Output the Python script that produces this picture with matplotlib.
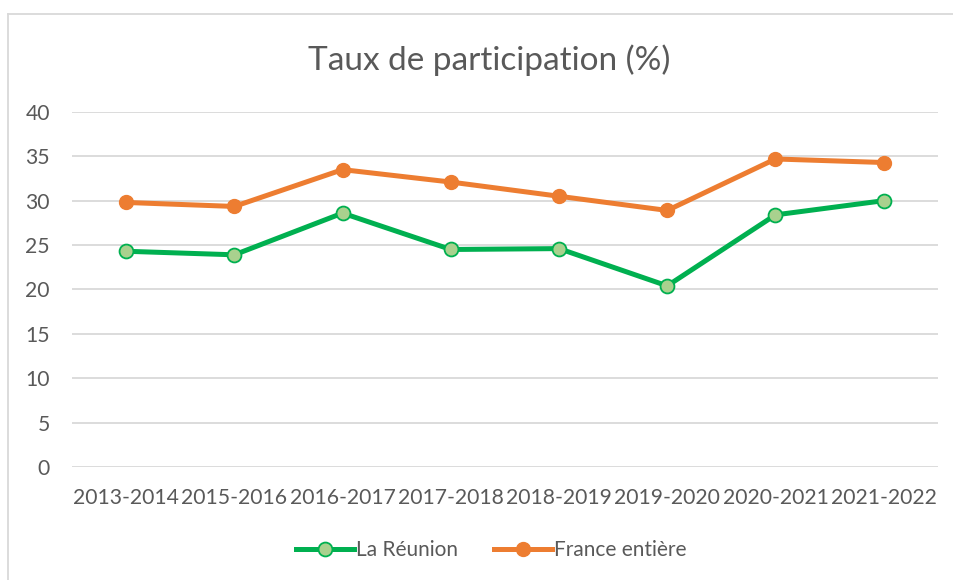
import matplotlib.pyplot as plt
from matplotlib.lines import Line2D

# Data
years = ["2013-2014", "2015-2016", "2016-2017", "2017-2018", "2018-2019",
         "2019-2020", "2020-2021", "2021-2022"]
reunion = [24.3, 23.9, 28.6, 24.5, 24.6, 20.4, 28.4, 30.0]
france = [29.8, 29.35, 33.5, 32.1, 30.5, 28.9, 34.7, 34.3]
y_ticks = [0, 5, 10, 15, 20, 25, 30, 35, 40]

plt.rcParams['font.family'] = ['Lato', 'DejaVu Sans']
text_col = '#595959'

fig = plt.figure(figsize=(9.54, 5.8), dpi=100)
ax = fig.add_axes([0.0755, 0.195, 0.9075, 0.612])

x = list(range(len(years)))
ax.plot(x, reunion, color='#00B050', lw=3.6, marker='o', markersize=10,
        markerfacecolor='#A9D18E', markeredgecolor='#00B050', markeredgewidth=1.3,
        label='La Réunion', zorder=3)
ax.plot(x, france, color='#ED7D31', lw=3.6, marker='o', markersize=10,
        markerfacecolor='#ED7D31', markeredgecolor='#ED7D31',
        label='France entière', zorder=3)

ax.set_xlim(-0.5, len(years) - 0.5)
ax.set_ylim(0, 40)
ax.set_yticks(y_ticks)
ax.set_xticks(x)
ax.set_xticklabels(years)
ax.tick_params(axis='both', length=0, labelsize=15.2, labelcolor=text_col)
ax.tick_params(axis='x', pad=15)
ax.tick_params(axis='y', pad=16)
ax.grid(axis='y', color='#D9D9D9', lw=1.3)
ax.set_axisbelow(True)
for s in ax.spines.values():
    s.set_visible(False)

fig.text(0.513, 0.896, 'Taux de participation (%)', ha='center', va='center',
         fontsize=24, color=text_col)

fig.legend(loc='center', bbox_to_anchor=(0.515, 0.051), ncol=2, frameon=False,
           fontsize=15, labelcolor=text_col, handlelength=2.8, handletextpad=0.1,
           columnspacing=1.7)

# partial chart border
fig.add_artist(Line2D([0.0085, 0.999], [0.976, 0.976], color='#D9D9D9', lw=1.3,
                      transform=fig.transFigure))
fig.add_artist(Line2D([0.0085, 0.0085], [0.0, 0.976], color='#D9D9D9', lw=1.3,
                      transform=fig.transFigure))

plt.savefig('out.png', dpi=100)
